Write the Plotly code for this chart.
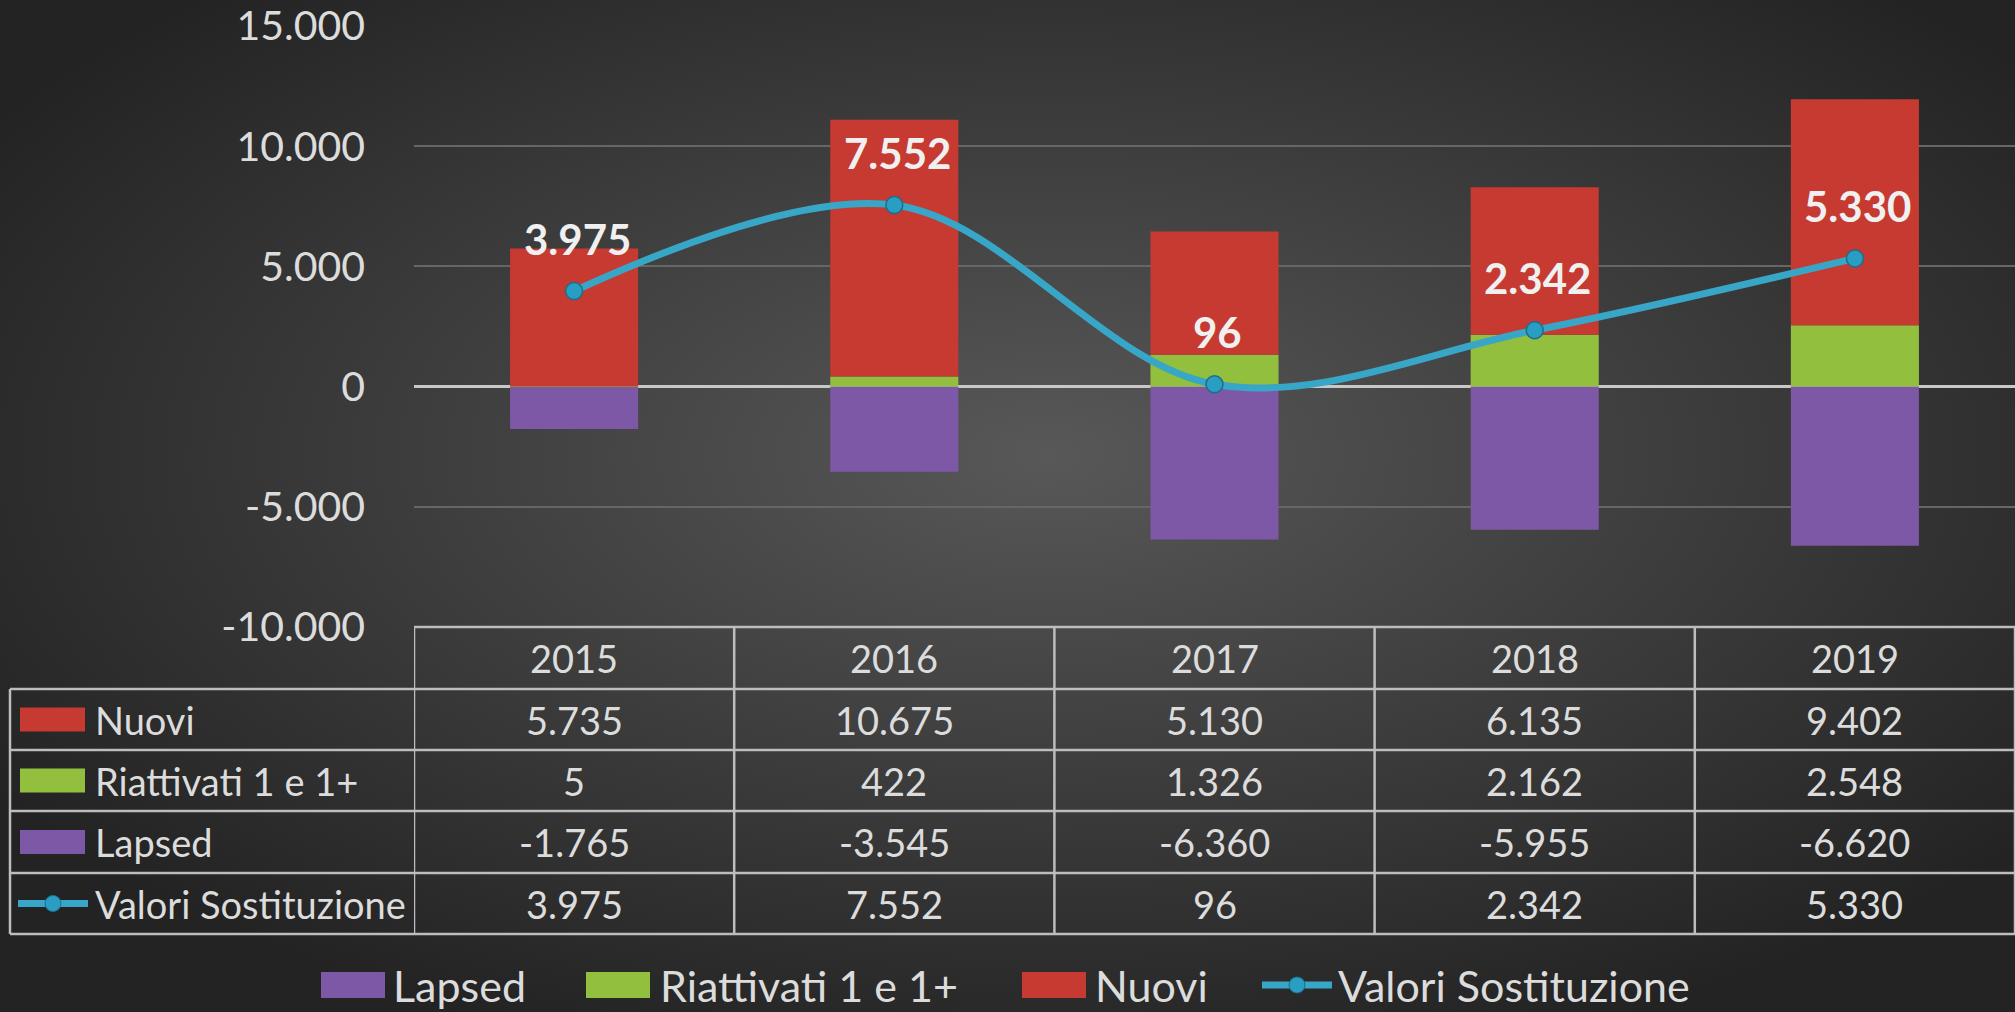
import base64
import plotly.graph_objects as go

# ---------------- data ----------------
years = ["2015", "2016", "2017", "2018", "2019"]
nuovi = [5735, 10675, 5130, 6135, 9402]
riattivati = [5, 422, 1326, 2162, 2548]
lapsed = [-1765, -3545, -6360, -5955, -6620]
valori = [3975, 7552, 96, 2342, 5330]
y_ticks = [15000, 10000, 5000, 0, -5000, -10000]

names = ["Nuovi", "Riattivati 1 e 1+", "Lapsed", "Valori Sostituzione"]

# ---------------- style ----------------
W, H = 2015, 1012
ML, MR, MT, MB = 414, 0, 26, 385
PW, PH = W - ML - MR, H - MT - MB
FONT = "Lato"
TXT = "#dcdcdc"
C_RED = "#c63a31"
C_GREEN = "#93bf3e"
C_PURPLE = "#7c58a6"
C_LINE = "#38a6c6"
C_MARK = "#2a9dc2"
GRID = "#666666"
TLINE = "#bdbdbd"


def it(v):
    s = f"{abs(v):,}".replace(",", ".")
    return ("-" if v < 0 else "") + s


def py(p):  # pixel y -> paper y
    return (H - MB - p) / PH


def px(p):  # pixel x -> paper x
    return (p - ML) / PW


fig = go.Figure()

fig.add_trace(go.Bar(x=years, y=lapsed, name="Lapsed", marker=dict(color=C_PURPLE, line=dict(width=0))))
fig.add_trace(go.Bar(x=years, y=riattivati, name="Riattivati 1 e 1+", marker=dict(color=C_GREEN, line=dict(width=0))))
fig.add_trace(go.Bar(x=years, y=nuovi, name="Nuovi", marker=dict(color=C_RED, line=dict(width=0))))
fig.add_trace(go.Scatter(
    x=years, y=valori, name="Valori Sostituzione", mode="lines+markers",
    line=dict(color=C_LINE, width=7, shape="spline", smoothing=1.0),
    marker=dict(size=17, color=C_MARK, line=dict(color="#1b6f8c", width=1.5)),
))

annotations = []
shapes = []

# data labels above line points (category index positions)
for i, v in enumerate(valori):
    annotations.append(dict(
        x=i, y=v, xref="x", yref="y", text=f"<b>{it(v)}</b>", showarrow=False,
        yshift=52, xshift=3, font=dict(family=FONT, size=42, color="#f0f0f0"),
    ))

# ---------------- table ----------------
row_edges = [627, 689, 750, 811, 873, 934]
lw = 2.5
shapes.append(dict(type="line", xref="paper", yref="paper", x0=0, x1=1,
                   y0=py(row_edges[0]), y1=py(row_edges[0]), line=dict(color=TLINE, width=lw)))
for e in row_edges[1:]:
    shapes.append(dict(type="line", xref="paper", yref="paper", x0=px(10), x1=1,
                       y0=py(e), y1=py(e), line=dict(color=TLINE, width=lw)))
shapes.append(dict(type="line", xref="paper", yref="paper", x0=px(10), x1=px(10),
                   y0=py(row_edges[1]), y1=py(row_edges[-1]), line=dict(color=TLINE, width=lw)))
for i in range(len(years) + 1):
    xv = i - 0.5
    shapes.append(dict(type="line", xref="x", yref="paper", x0=xv, x1=xv,
                       y0=py(row_edges[0]), y1=py(row_edges[-1]), line=dict(color=TLINE, width=lw)))

tfont = dict(family=FONT, size=38, color=TXT)
for i, yr in enumerate(years):
    annotations.append(dict(x=i, y=py((row_edges[0] + row_edges[1]) / 2), xref="x", yref="paper",
                            text=yr, showarrow=False, font=tfont, yanchor="middle"))
rows = [nuovi, riattivati, lapsed, valori]
colors = [C_RED, C_GREEN, C_PURPLE, None]
for r, (nm, vals, col) in enumerate(zip(names, rows, colors)):
    cy = (row_edges[r + 1] + row_edges[r + 2]) / 2
    for i, v in enumerate(vals):
        annotations.append(dict(x=i, y=py(cy), xref="x", yref="paper", text=it(v),
                                showarrow=False, font=tfont, yanchor="middle"))
    annotations.append(dict(x=px(93), y=py(cy), xref="paper", yref="paper", text=nm,
                            showarrow=False, font=tfont, xanchor="left", yanchor="middle"))
    if col:
        shapes.append(dict(type="rect", xref="paper", yref="paper", x0=px(20), x1=px(85),
                           y0=py(cy - 12), y1=py(cy + 12), fillcolor=col, line=dict(width=0)))
    else:
        shapes.append(dict(type="line", xref="paper", yref="paper", x0=px(18), x1=px(88),
                           y0=py(cy), y1=py(cy), line=dict(color=C_LINE, width=7)))
        shapes.append(dict(type="circle", xref="paper", yref="paper", x0=px(45), x1=px(61),
                           y0=py(cy - 8), y1=py(cy + 8), fillcolor=C_MARK,
                           line=dict(color="#1b6f8c", width=1)))

# ---------------- legend (custom) ----------------
lfont = dict(family=FONT, size=43, color=TXT)
ly = 985
leg = [("Lapsed", C_PURPLE, 321, 392), ("Riattivati 1 e 1+", C_GREEN, 586, 659),
       ("Nuovi", C_RED, 1022, 1094), ("Valori Sostituzione", None, 1262, 1337)]
for nm, col, ix, tx in leg:
    if col:
        shapes.append(dict(type="rect", xref="paper", yref="paper", x0=px(ix), x1=px(ix + 64),
                           y0=py(ly - 13), y1=py(ly + 13), fillcolor=col, line=dict(width=0)))
    else:
        shapes.append(dict(type="line", xref="paper", yref="paper", x0=px(ix), x1=px(ix + 70),
                           y0=py(ly), y1=py(ly), line=dict(color=C_LINE, width=7)))
        shapes.append(dict(type="circle", xref="paper", yref="paper", x0=px(ix + 27), x1=px(ix + 43),
                           y0=py(ly - 8), y1=py(ly + 8), fillcolor=C_MARK,
                           line=dict(color="#1b6f8c", width=1)))
    annotations.append(dict(x=px(tx), y=py(ly), xref="paper", yref="paper", text=nm,
                            showarrow=False, font=lfont, xanchor="left", yanchor="middle",
                            borderpad=0))

# ---------------- background gradient ----------------
svg = (f'<svg xmlns="http://www.w3.org/2000/svg" width="{W}" height="{H}">'
       '<defs><radialGradient id="g" cx="0.52" cy="0.45" r="0.62">'
       '<stop offset="0" stop-color="#585858"/><stop offset="1" stop-color="#232323"/>'
       '</radialGradient></defs>'
       f'<rect width="{W}" height="{H}" fill="url(#g)"/></svg>')
src = "data:image/svg+xml;base64," + base64.b64encode(svg.encode()).decode()

fig.update_layout(
    width=W, height=H,
    margin=dict(l=ML, r=MR, t=MT, b=MB, pad=0),
    paper_bgcolor="#333333", plot_bgcolor="rgba(0,0,0,0)",
    barmode="relative", bargap=0.6,
    showlegend=False,
    images=[dict(source=src, xref="paper", yref="paper", x=px(0), y=py(0),
                 sizex=W / PW, sizey=H / PH, xanchor="left", yanchor="top",
                 sizing="stretch", layer="below")],
    annotations=annotations, shapes=shapes,
    font=dict(family=FONT, color=TXT),
    xaxis=dict(type="category", range=[-0.5, 4.5], showticklabels=False, showgrid=False,
               zeroline=False, showline=False, ticks=""),
    yaxis=dict(range=[-10000, 15000], tickvals=y_ticks, ticktext=[it(v) for v in y_ticks],
               showgrid=True, gridcolor=GRID, gridwidth=2,
               zeroline=True, zerolinecolor="#c8c8c8", zerolinewidth=2.5,
               showline=False, ticks="", ticklabelstandoff=48,
               tickfont=dict(family=FONT, size=41, color=TXT)),
)

fig.write_html("out.html", config={"displayModeBar": False},
               post_script="document.body.style.margin='0';document.body.style.overflow='hidden';")
